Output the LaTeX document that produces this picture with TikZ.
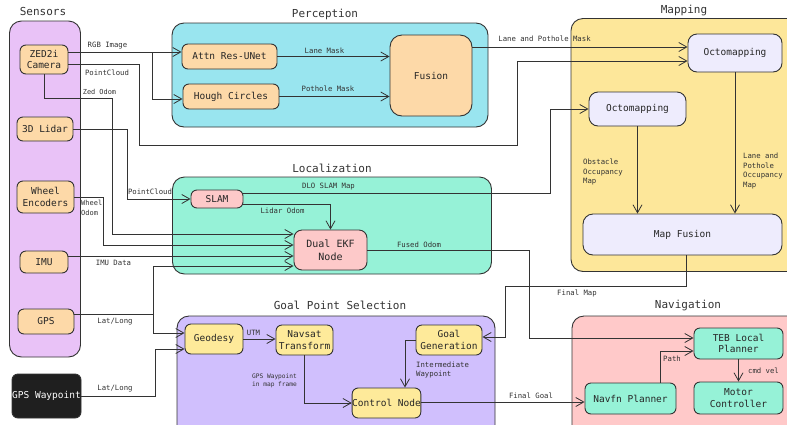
\documentclass[tikz,border=0pt]{standalone}
\usepackage{fontspec}
\setmonofont{DejaVu Sans Mono}
\usetikzlibrary{arrows.meta}

\definecolor{edgegray}{HTML}{333333}
\definecolor{sensorbg}{HTML}{E9C2F7}
\definecolor{sensorbox}{HTML}{FDD9A8}
\definecolor{percepbg}{HTML}{99E5EF}
\definecolor{mapbg}{HTML}{FDE79A}
\definecolor{lavbox}{HTML}{EEECFD}
\definecolor{locbg}{HTML}{96F2D7}
\definecolor{pinkbox}{HTML}{FDC9C9}
\definecolor{goalbg}{HTML}{D0BFFD}
\definecolor{yellowbox}{HTML}{FEEA9A}
\definecolor{navbg}{HTML}{FFC9C9}
\definecolor{mintbox}{HTML}{96F2D7}

\begin{document}
\begin{tikzpicture}[x=1pt, y=-1pt,
    group/.style={draw=edgegray, line width=0.9pt, rounded corners=12pt, inner sep=0pt},
    grouptitle/.style={font=\ttfamily\fontsize{11}{12}\selectfont, text=edgegray, inner sep=0pt},
    box/.style={draw=edgegray, line width=0.9pt, rounded corners=6pt, align=center, inner sep=0pt,
        font=\ttfamily\fontsize{9.5}{11.5}\selectfont, text=black!85},
    lbl/.style={font=\ttfamily\fontsize{7.3}{9.5}\selectfont, text=edgegray, align=left, inner sep=0pt},
    small/.style={font=\ttfamily\fontsize{6.2}{8}\selectfont},
    arr/.style={draw=edgegray, line width=0.8pt, -{Straight Barb[length=8pt,width=9pt]}},
    wire/.style={draw=edgegray, line width=0.8pt}]

        \useasboundingbox[fill=white] (0,0) rectangle (787,424);

        % Groups
        \node[group, fill=sensorbg, minimum width=71pt, minimum height=336pt] (sensors) at (45,189) {};
        \node[group, fill=percepbg, minimum width=316pt, minimum height=104pt] (perception) at (330,75) {};
        \node[group, fill=mapbg, minimum width=229pt, minimum height=253pt] (mapping) at (685.5,145) {};
        \node[group, fill=locbg, minimum width=319pt, minimum height=97pt] (localization) at (332,225.5) {};
        \node[group, fill=goalbg, minimum width=318pt, minimum height=130pt] (goalsel) at (336,381) {};
        \node[group, fill=navbg, minimum width=229pt, minimum height=130pt] (navigation) at (686.5,381) {};

        \node[grouptitle] (sensorstitle) at (43,11) {Sensors};
        \node[grouptitle] (perceptiontitle) at (325,14) {Perception};
        \node[grouptitle] (mappingtitle) at (684,10) {Mapping};
        \node[grouptitle] (localizationtitle) at (332,168) {Localization};
        \node[grouptitle] (goalseltitle) at (340,305) {Goal Point Selection};
        \node[grouptitle] (navigationtitle) at (688,305) {Navigation};

        % Nodes
        \node[box, fill=sensorbox, minimum width=48pt, minimum height=29pt] (zed) at (44,59.5) {ZED2i\\Camera};
        \node[box, fill=sensorbox, minimum width=56pt, minimum height=24pt] (lidar) at (45,129) {3D Lidar};
        \node[box, fill=sensorbox, minimum width=57pt, minimum height=32pt] (wheel) at (45.5,197) {Wheel\\Encoders};
        \node[box, fill=sensorbox, minimum width=48pt, minimum height=22pt] (imu) at (44,262) {IMU};
        \node[box, fill=sensorbox, minimum width=56pt, minimum height=25pt] (gps) at (46,321.5) {GPS};
        \node[box, fill=black!88, text=white, minimum width=69pt, minimum height=44pt] (waypoint) at (46.5,396) {GPS Waypoint};

        \node[box, fill=sensorbox, minimum width=95pt, minimum height=25pt] (attn) at (229.5,56.5) {Attn Res-UNet};
        \node[box, fill=sensorbox, minimum width=96pt, minimum height=25pt] (hough) at (231,96.5) {Hough Circles};
        \node[box, fill=sensorbox, rounded corners=12pt, minimum width=82pt, minimum height=81pt] (fusion) at (431,75.5) {Fusion};

        \node[box, fill=lavbox, rounded corners=9pt, minimum width=94pt, minimum height=38pt] (octotop) at (735,53) {Octomapping};
        \node[box, fill=lavbox, rounded corners=9pt, minimum width=97pt, minimum height=34pt] (octomid) at (637.5,109) {Octomapping};
        \node[box, fill=lavbox, rounded corners=10pt, minimum width=199pt, minimum height=41pt] (mapfusion) at (682.5,234.5) {Map Fusion};

        \node[box, fill=pinkbox, minimum width=52pt, minimum height=18pt] (slam) at (217,199) {SLAM};
        \node[box, fill=pinkbox, rounded corners=8pt, minimum width=73pt, minimum height=40pt, font=\ttfamily\fontsize{10}{12.5}\selectfont] (ekf) at (330.5,250) {Dual EKF\\Node};

        \node[box, fill=yellowbox, minimum width=58pt, minimum height=30pt] (geodesy) at (214,339) {Geodesy};
        \node[box, fill=yellowbox, minimum width=57pt, minimum height=30pt] (navsat) at (304.5,340) {Navsat\\Transform};
        \node[box, fill=yellowbox, minimum width=66pt, minimum height=30pt] (goalgen) at (449,340) {Goal\\Generation};
        \node[box, fill=yellowbox, minimum width=65pt, minimum height=30pt] (control) at (386.5,403) {Control Node};

        \node[box, fill=mintbox, minimum width=89pt, minimum height=31pt] (teb) at (738.5,343.5) {TEB Local\\Planner};
        \node[box, fill=mintbox, minimum width=91pt, minimum height=31pt] (navfn) at (630.5,398.5) {Navfn Planner};
        \node[box, fill=mintbox, minimum width=89pt, minimum height=32pt] (motor) at (738.5,398) {Motor\\Controller};

        % Junctions
        \coordinate (rgbsplit) at (152,52);
        \coordinate (gpssplit) at (153,314);

        % Edges
        \draw[arr] ([yshift=7.5pt]zed.east) -- ([yshift=4.5pt]attn.west);
        \draw[arr] (rgbsplit) |- ([yshift=-2.5pt]hough.west);
        \draw[arr] ([yshift=-4.5pt]zed.east) -- ++(71,0) |- (517,145) |- ([yshift=-8pt]octotop.west);
        \draw[arr] (attn.east) -- (attn.east -| fusion.west);
        \draw[arr] (hough.east) -- (hough.east -| fusion.west);
        \draw[arr] ([yshift=28.5pt]fusion.east) -- ([yshift=6pt]octotop.west);
        \draw[arr] (zed.south) |- (112,98) |- ([yshift=16pt]ekf.west);
        \draw[arr] (lidar.east) -- ++(54,0) |- (slam.west);
        \draw[arr] (wheel.east) -- ++(29,0) |- ([yshift=5pt]ekf.west);
        \draw[arr] ([yshift=6pt]imu.east) -- ([yshift=-6pt]ekf.west);
        \draw[wire] ([yshift=7.5pt]gps.east) -- (gpssplit);
        \draw[arr] (gpssplit) |- ([yshift=-16pt]ekf.west);
        \draw[arr] (gpssplit) |- ([yshift=6pt]geodesy.west);
        \draw[arr] (waypoint.east) -- ++(74,0) |- ([yshift=-10pt]geodesy.west);
        \draw[arr] ([yshift=6pt]slam.east) -- ++(307,0) |- (octomid.west);
        \draw[arr] ([yshift=-5pt]slam.east) -| (ekf.north);
        \draw[arr] (ekf.east) -- ++(162,0) |- ([yshift=5.5pt]teb.west);
        \draw[arr] (octomid.south) -- (octomid.south |- mapfusion.north);
        \draw[arr] (octotop.south) -- (octotop.south |- mapfusion.north);
        \draw[arr] ([xshift=3.5pt]mapfusion.south) |- (505,286) |- ([yshift=3pt]goalgen.east);
        \draw[arr] (geodesy.east) -- (geodesy.east -| navsat.west);
        \draw[arr] (navsat.south) |- (control.west);
        \draw[arr] (goalgen.west) -| ([xshift=18.5pt]control.north);
        \draw[arr] ([yshift=1pt]control.east) -- ([yshift=-3.5pt]navfn.west);
        \draw[arr] ([xshift=29.5pt]navfn.north) |- ([yshift=-7.5pt]teb.west);
        \draw[arr] (teb.south) -- (motor.north);

        % Labels
        \node[lbl] (rgblbl) at (107.5,46) {RGB Image};
        \node[lbl] (camcloudlbl) at (107,73) {PointCloud};
        \node[lbl, font=\ttfamily\fontsize{6.9}{9}\selectfont] (zedodomlbl) at (99.5,92) {Zed Odom};
        \node[lbl] (lidarcloudlbl) at (150,192) {PointCloud};
        \node[lbl, anchor=west, font=\ttfamily\fontsize{7}{10}\selectfont] (wheelodomlbl) at (81,208) {Wheel\\Odom};
        \node[lbl] (imulbl) at (113.5,263) {IMU Data};
        \node[lbl] (gpslbl) at (115,322) {Lat/Long};
        \node[lbl] (waypointlbl) at (115,389) {Lat/Long};
        \node[lbl] (lanelbl) at (324.5,51) {Lane Mask};
        \node[lbl] (potholelbl) at (328,89) {Pothole Mask};
        \node[lbl] (masklbl) at (544.5,38.5) {Lane and Pothole Mask};
        \node[lbl] (dlolbl) at (328.5,187) {DLO SLAM Map};
        \node[lbl] (lidarodomlbl) at (282.5,211) {Lidar Odom};
        \node[lbl] (fusedlbl) at (419,245) {Fused Odom};
        \node[lbl, anchor=west] (obstaclelbl) at (583,172) {Obstacle\\Occupancy\\Map};
        \node[lbl, anchor=west] (lanemaplbl) at (743,171) {Lane and\\Pothole\\Occupancy\\Map};
        \node[lbl] (finalmaplbl) at (577,293) {Final Map};
        \node[lbl] (utmlbl) at (253.5,333) {UTM};
        \node[lbl, small] (maplbl) at (274.5,381) {GPS Waypoint\\in map frame};
        \node[lbl, anchor=west] (intermlbl) at (416,370) {Intermediate\\Waypoint};
        \node[lbl] (finalgoallbl) at (531,396) {Final Goal};
        \node[lbl] (pathlbl) at (672,359) {Path};
        \node[lbl] (cmdlbl) at (763.5,371) {cmd vel};

    \end{tikzpicture}
\end{document}
